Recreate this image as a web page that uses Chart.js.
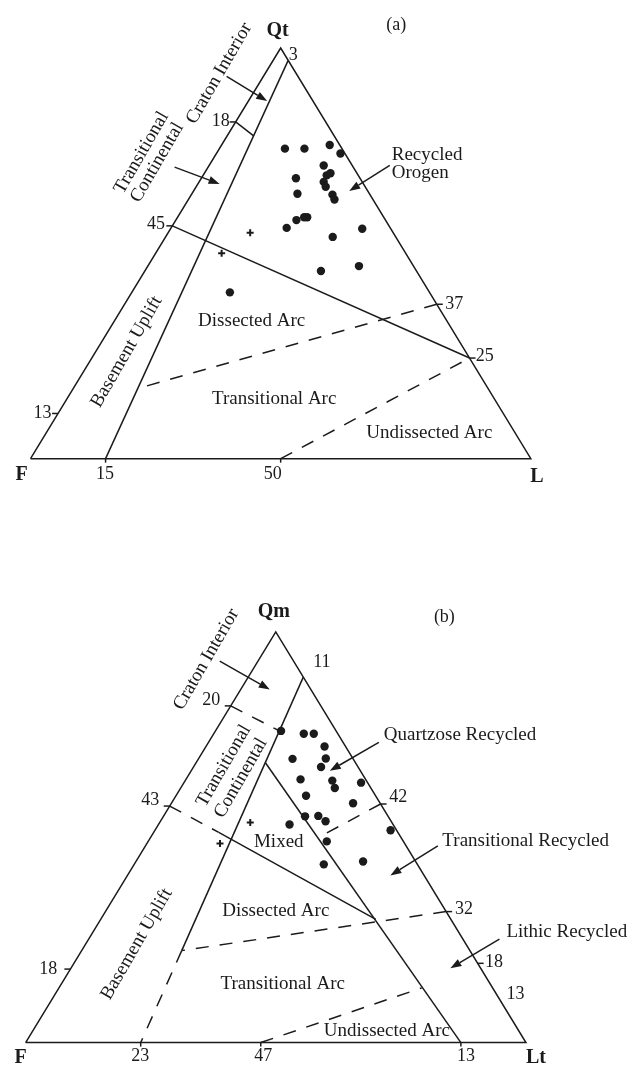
<!DOCTYPE html>
<html>
<head>
<meta charset="utf-8">
<script src="https://cdn.jsdelivr.net/npm/chart.js@4.4.0/dist/chart.umd.min.js"></script>
<style>
  html, body { margin: 0; padding: 0; background: #fff; }
  #wrap { position: relative; width: 631px; height: 1074px; overflow: hidden; }
  canvas { position: absolute; left: 0; }
  #chartA { top: 0; }
  #chartB { top: 537px; }
</style>
</head>
<body>
<div id="wrap">
  <canvas id="chartA" width="631" height="537"></canvas>
  <canvas id="chartB" width="631" height="537"></canvas>
</div>
<script>
const INK = '#1b1b1b';
const SERIF = '"Liberation Serif", "Times New Roman", serif';

// ---- (a) Qt-F-L : sample compositions, percent Qt and percent L (F = rest)
const qtA = [75.5, 75.5, 76.4, 74.3, 71.4, 69.0, 69.5, 67.4, 66.2, 68.3, 64.5, 64.3, 63.1, 58.8, 58.8, 58.1, 56.2, 56.0, 54.0, 45.7, 46.9, 40.5];
const lA  = [13.1, 17.0, 21.6, 24.8, 22.9, 24.7, 25.2, 24.9, 25.9, 18.9, 21.1, 28.2, 29.2, 25.9, 25.3, 24.1, 23.1, 38.3, 33.4, 35.2, 42.2, 19.6];
const plusQtA = [55.0, 50.0];
const plusLA  = [16.4, 13.2];
// field boundaries, end points as [Qt, L]
const solidA  = [[[0, 15], [97, 3]], [[82, 0], [78.6, 5.3]], [[56.7, 0], [24.5, 75.5]]];
const dashedA = [[[37.6, 62.4], [17.1, 12.9]], [[0, 50], [24.5, 75.5]]];
const tickLeftA = [82, 56.7, 11];       // Qt on the Qt-F side
const tickRightA = [37.6, 24.5];        // Qt on the Qt-L side
const tickBaseA = [15, 50];             // L on the F-L side

// ---- (b) Qm-F-Lt : sample compositions, percent Qm and percent Lt
const qmB = [75.9, 75.2, 75.2, 72.1, 69.2, 69.1, 67.1, 64.1, 63.8, 62.0, 63.3, 60.1, 58.3, 55.1, 55.2, 53.9, 53.1, 49.0, 51.7, 43.4, 44.1];
const ltB = [13.1, 18.0, 20.0, 23.7, 25.4, 18.8, 25.5, 22.9, 29.4, 30.8, 35.4, 26.0, 36.3, 28.3, 30.9, 33.0, 26.2, 35.7, 47.1, 37.9, 45.4];
const plusQmB = [53.6, 48.5];
const plusLtB = [18.1, 14.6];
const solidB  = [[[89, 11], [22.4, 20.0]], [[51.2, 13.0], [30.0, 55.0]], [[68.2, 13.8], [0, 87]]];
const dashedB = [[[22.4, 20.0], [0, 23]], [[82, 0], [75.9, 12.8]], [[57.6, 0], [51.2, 13.0]],
                 [[58.1, 41.9], [50.0, 33.6]], [[31.9, 68.1], [22.4, 20.0]], [[0, 47], [13.3, 72.5]]];
const tickLeftB = [82, 57.6, 17.9];
const tickRightB = [58.1, 31.9, 19.3];
const tickBaseB = [23, 47, 87];

function tern(q, l) {
  return { x: l + q / 2, y: q };
}

const labelsA = [
  { t: 'Qt', x: 49.4, y: 104.3, size: 20, bold: true },
  { t: '(a)', x: 73.1, y: 105.5, size: 18 },
  { t: '3', x: 52.5, y: 98.3, size: 18 },
  { t: '18', x: 38.0, y: 82.1, size: 18 },
  { t: '45', x: 25.1, y: 57.1, size: 18 },
  { t: '13', x: 2.4, y: 11.0, size: 18 },
  { t: '37', x: 84.7, y: 37.6, size: 18 },
  { t: '25', x: 90.8, y: 25.0, size: 18 },
  { t: 'F', x: -1.8, y: -4.0, size: 20, bold: true },
  { t: '15', x: 14.9, y: -3.8, size: 18 },
  { t: '50', x: 48.4, y: -3.8, size: 18 },
  { t: 'L', x: 101.2, y: -4.5, size: 20, bold: true },
  { t: 'Craton Interior', x: 37.7, y: 93.8, rot: -60 },
  { t: 'Transitional', x: 22.2, y: 74.5, rot: -60 },
  { t: 'Continental', x: 25.3, y: 72.1, rot: -60 },
  { t: 'Recycled', x: 72.2, y: 74.0, align: 'left' },
  { t: 'Orogen', x: 72.2, y: 69.5, align: 'left' },
  { t: 'Dissected Arc', x: 44.2, y: 33.5 },
  { t: 'Transitional Arc', x: 48.7, y: 14.5 },
  { t: 'Undissected Arc', x: 79.7, y: 6.2 },
  { t: 'Basement Uplift', x: 19.2, y: 26.0, rot: -60 }
];
const arrowsA = [
  [[39.2, 93.1], [47.3, 87.1]],
  [[28.8, 71.0], [37.8, 66.9]],
  [[71.8, 71.4], [63.7, 65.2]]
];

const labelsB = [
  { t: 'Qm', x: 49.6, y: 104.8, size: 20, bold: true },
  { t: '(b)', x: 83.7, y: 103.6, size: 18 },
  { t: '11', x: 59.2, y: 92.6, size: 18 },
  { t: '20', x: 37.1, y: 83.3, size: 18 },
  { t: '43', x: 24.9, y: 59.0, size: 18 },
  { t: '18', x: 4.5, y: 17.9, size: 18 },
  { t: '42', x: 74.5, y: 59.8, size: 18 },
  { t: '32', x: 87.6, y: 32.5, size: 18 },
  { t: '18', x: 93.6, y: 19.5, size: 18 },
  { t: '13', x: 97.9, y: 11.8, size: 18 },
  { t: 'F', x: -1.0, y: -3.8, size: 20, bold: true },
  { t: '23', x: 22.9, y: -3.3, size: 18 },
  { t: '47', x: 47.5, y: -3.3, size: 18 },
  { t: '13', x: 88.0, y: -3.3, size: 18 },
  { t: 'Lt', x: 102.0, y: -3.8, size: 20, bold: true },
  { t: 'Craton Interior', x: 36.1, y: 93.3, rot: -60 },
  { t: 'Transitional', x: 39.6, y: 67.4, rot: -60 },
  { t: 'Continental', x: 43.0, y: 64.4, rot: -60 },
  { t: 'Quartzose Recycled', x: 71.6, y: 75.0, align: 'left' },
  { t: 'Transitional Recycled', x: 83.3, y: 49.0, align: 'left' },
  { t: 'Lithic Recycled', x: 96.1, y: 26.9, align: 'left' },
  { t: 'Mixed', x: 50.6, y: 48.8 },
  { t: 'Dissected Arc', x: 50.0, y: 32.1 },
  { t: 'Transitional Arc', x: 51.4, y: 14.3 },
  { t: 'Undissected Arc', x: 72.2, y: 2.9 },
  { t: 'Basement Uplift', x: 22.2, y: 24.0, rot: -60 }
];
const arrowsB = [
  [[38.8, 92.9], [48.8, 86.0]],
  [[70.6, 73.1], [60.8, 66.2]],
  [[82.4, 47.9], [72.9, 40.7]],
  [[94.7, 25.2], [84.9, 18.1]]
];

function decorPlugin(spec) {
  return {
    id: 'decor',
    afterDatasetsDraw(chart) {
      const ctx = chart.ctx;
      const sx = chart.scales.x, sy = chart.scales.y;
      const P = (x, y) => [sx.getPixelForValue(x), sy.getPixelForValue(y)];
      ctx.save();
      ctx.strokeStyle = INK;
      ctx.fillStyle = INK;
      ctx.lineWidth = 1.5;

      // edge ticks
      const tick = (p, dx, dy) => {
        ctx.beginPath();
        ctx.moveTo(p[0], p[1]);
        ctx.lineTo(p[0] + dx, p[1] + dy);
        ctx.stroke();
      };
      spec.tickLeft.forEach(q => { const t = tern(q, 0); tick(P(t.x, t.y), -6, 0); });
      spec.tickRight.forEach(q => { const t = tern(q, 100 - q); tick(P(t.x, t.y), 6, 0); });
      spec.tickBase.forEach(l => { const t = tern(0, l); tick(P(t.x, t.y), 0, 4); });

      // arrows
      spec.arrows.forEach(a => {
        const s = P(a[0][0], a[0][1]), e = P(a[1][0], a[1][1]);
        const ang = Math.atan2(e[1] - s[1], e[0] - s[0]);
        const hl = 11, hw = 4;
        const bx = e[0] - hl * Math.cos(ang), by = e[1] - hl * Math.sin(ang);
        ctx.beginPath();
        ctx.moveTo(s[0], s[1]);
        ctx.lineTo(bx, by);
        ctx.stroke();
        ctx.beginPath();
        ctx.moveTo(e[0], e[1]);
        ctx.lineTo(bx + hw * Math.sin(ang), by - hw * Math.cos(ang));
        ctx.lineTo(bx - hw * Math.sin(ang), by + hw * Math.cos(ang));
        ctx.closePath();
        ctx.fill();
      });

      // text
      ctx.textBaseline = 'middle';
      spec.labels.forEach(lb => {
        const p = P(lb.x, lb.y);
        ctx.save();
        ctx.translate(p[0], p[1]);
        if (lb.rot) ctx.rotate(lb.rot * Math.PI / 180);
        ctx.font = (lb.bold ? 'bold ' : '') + (lb.size || 19) + 'px ' + SERIF;
        ctx.textAlign = lb.align || 'center';
        ctx.fillText(lb.t, 0, 0);
        ctx.restore();
      });
      ctx.restore();
    }
  };
}

function makePanel(id, geom, spec) {
  const canvas = document.getElementById(id);
  const W = canvas.width, H = canvas.height;
  // map the triangle corners (pixel layout) onto the hidden linear axes
  const xr = 100 * W / (geom.right - geom.left);
  const xmin = -geom.left * xr / W;
  const yr = 100 * H / (geom.base - geom.apex);
  const ymax = geom.base * yr / H;

  const line = (seg, dash) => ({
    data: seg.map(p => tern(p[0], p[1])),
    showLine: true,
    borderColor: INK,
    borderWidth: 1.5,
    borderDash: dash || [],
    pointRadius: 0,
    tension: 0
  });

  const datasets = [
    line([[0, 0], [0, 100], [100, 0], [0, 0]]),
    ...spec.solid.map(s => line(s)),
    ...spec.dashed.map(s => line(s, [13, 11])),
    {
      data: spec.q.map((q, i) => tern(q, spec.l[i])),
      pointRadius: 4.2,
      backgroundColor: INK,
      borderWidth: 0
    },
    {
      data: spec.plusQ.map((q, i) => tern(q, spec.plusL[i])),
      pointStyle: 'cross',
      pointRadius: 3.5,
      borderColor: INK,
      borderWidth: 2
    }
  ];

  return new Chart(canvas.getContext('2d'), {
    type: 'scatter',
    data: { datasets: datasets },
    options: {
      responsive: false,
      animation: false,
      events: [],
      layout: { padding: 0 },
      plugins: { legend: { display: false }, tooltip: { enabled: false } },
      scales: {
        x: { type: 'linear', min: xmin, max: xmin + xr, display: false },
        y: { type: 'linear', min: ymax - yr, max: ymax, display: false }
      }
    },
    plugins: [decorPlugin(spec)]
  });
}

makePanel('chartA', { left: 25, right: 535, apex: 43, base: 463 }, {
  q: qtA, l: lA, plusQ: plusQtA, plusL: plusLA,
  solid: solidA, dashed: dashedA,
  tickLeft: tickLeftA, tickRight: tickRightA, tickBase: tickBaseA,
  labels: labelsA, arrows: arrowsA
});

makePanel('chartB', { left: 20, right: 530, apex: 91, base: 511 }, {
  q: qmB, l: ltB, plusQ: plusQmB, plusL: plusLtB,
  solid: solidB, dashed: dashedB,
  tickLeft: tickLeftB, tickRight: tickRightB, tickBase: tickBaseB,
  labels: labelsB, arrows: arrowsB
});
</script>
</body>
</html>
